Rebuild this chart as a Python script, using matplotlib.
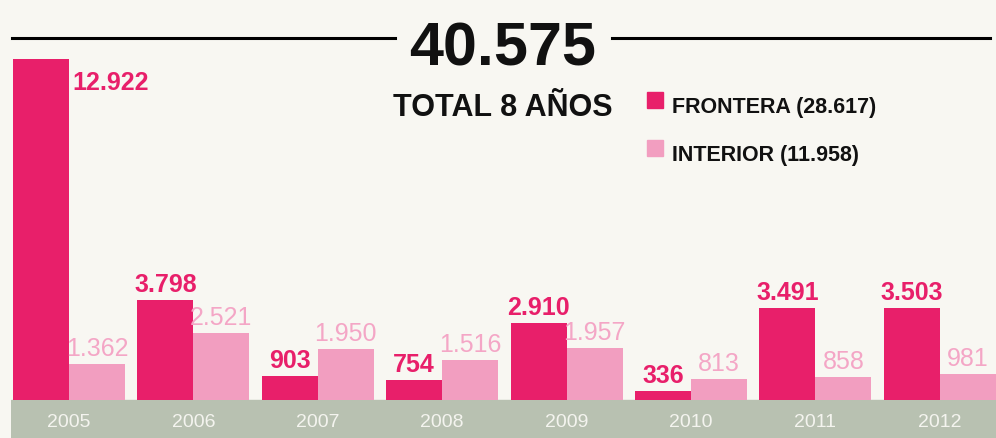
import matplotlib
matplotlib.use("Agg")
import matplotlib.pyplot as plt
from matplotlib.patches import Rectangle
from matplotlib.lines import Line2D

years = ["2005", "2006", "2007", "2008", "2009", "2010", "2011", "2012"]
frontera = [12922, 3798, 903, 754, 2910, 336, 3491, 3503]
interior = [1362, 2521, 1950, 1516, 1957, 813, 858, 981]
total_label = "40.575"
subtitle = "TOTAL 8 AÑOS"
series_names = ["FRONTERA", "INTERIOR"]

DARK = "#e81f6a"
LIGHT = "#f29ec0"
LIGHT_TXT = "#f4a6c6"
BG = "#f8f7f2"
BAND = "#b8c1b1"
YEAR_TXT = "#f4f4ef"

FONT = ["Liberation Sans", "DejaVu Sans"]
plt.rcParams["font.family"] = FONT

def fmt(v):
    return f"{v:,}".replace(",", ".")

W, H = 996, 438
fig = plt.figure(figsize=(W / 100, H / 100), dpi=100, facecolor=BG)

px_per_unit = 341 / 12922
base_px = 38  # from bottom
ymin = -base_px / px_per_unit
ymax = ymin + H / px_per_unit

left_px = 11
ax = fig.add_axes([left_px / W, 0, 1 - left_px / W, 1])
ax.set_facecolor(BG)
pitch = 124.4
x0 = -(69 - left_px) / pitch
x1 = x0 + (W - left_px) / pitch
ax.set_xlim(x0, x1)
ax.set_ylim(ymin, ymax)
ax.axis("off")

ax.axhspan(ymin, 0, color=BAND, zorder=0)

bw = 0.45
xs = list(range(len(years)))
ax.bar([x - bw / 2 for x in xs], frontera, width=bw, color=DARK, zorder=2)
ax.bar([x + bw / 2 for x in xs], interior, width=bw, color=LIGHT, zorder=2)

gap = 8 / px_per_unit
lab_size = 18
for i, (f, n) in enumerate(zip(frontera, interior)):
    if i == 0:
        ax.text(i + 0.03, f - 31 / px_per_unit, fmt(f), ha="left", va="baseline",
                color=DARK, fontsize=lab_size, fontweight="bold", zorder=3)
    else:
        ax.text(i - bw / 2, f + gap, fmt(f), ha="center", va="baseline",
                color=DARK, fontsize=lab_size, fontweight="bold", zorder=3)
    ax.text(i + bw / 2, n + gap, fmt(n), ha="center", va="baseline",
            color=LIGHT_TXT, fontsize=lab_size, zorder=3)
    ax.text(i, -27 / px_per_unit, years[i], ha="center", va="baseline",
            color=YEAR_TXT, fontsize=14, zorder=3)

def fx(x):
    return x / W

def fy(y):
    return 1 - y / H

fig.add_artist(Line2D([fx(12), fx(395)], [fy(38), fy(38)], color="black", lw=2.2))
fig.add_artist(Line2D([fx(612), fx(990)], [fy(38), fy(38)], color="black", lw=2.2))
fig.text(fx(503), fy(65), total_label, ha="center", va="baseline",
         fontsize=44, fontweight="bold", color="#111111")
fig.text(fx(503), fy(116), subtitle, ha="center", va="baseline",
         fontsize=22, fontweight="bold", color="#111111")

leg_items = [(series_names[0], sum(frontera), DARK, 92),
             (series_names[1], sum(interior), LIGHT, 140)]
for name, tot, col, ytop in leg_items:
    fig.add_artist(Rectangle((fx(647), fy(ytop + 16)), 16 / W, 16 / H,
                             color=col, transform=fig.transFigure))
    fig.text(fx(672), fy(ytop + 21), f"{name} ({fmt(tot)})", ha="left",
             va="baseline", fontsize=15.5, fontweight="bold", color="#111111")

fig.savefig("out.png", dpi=100, facecolor=BG)
